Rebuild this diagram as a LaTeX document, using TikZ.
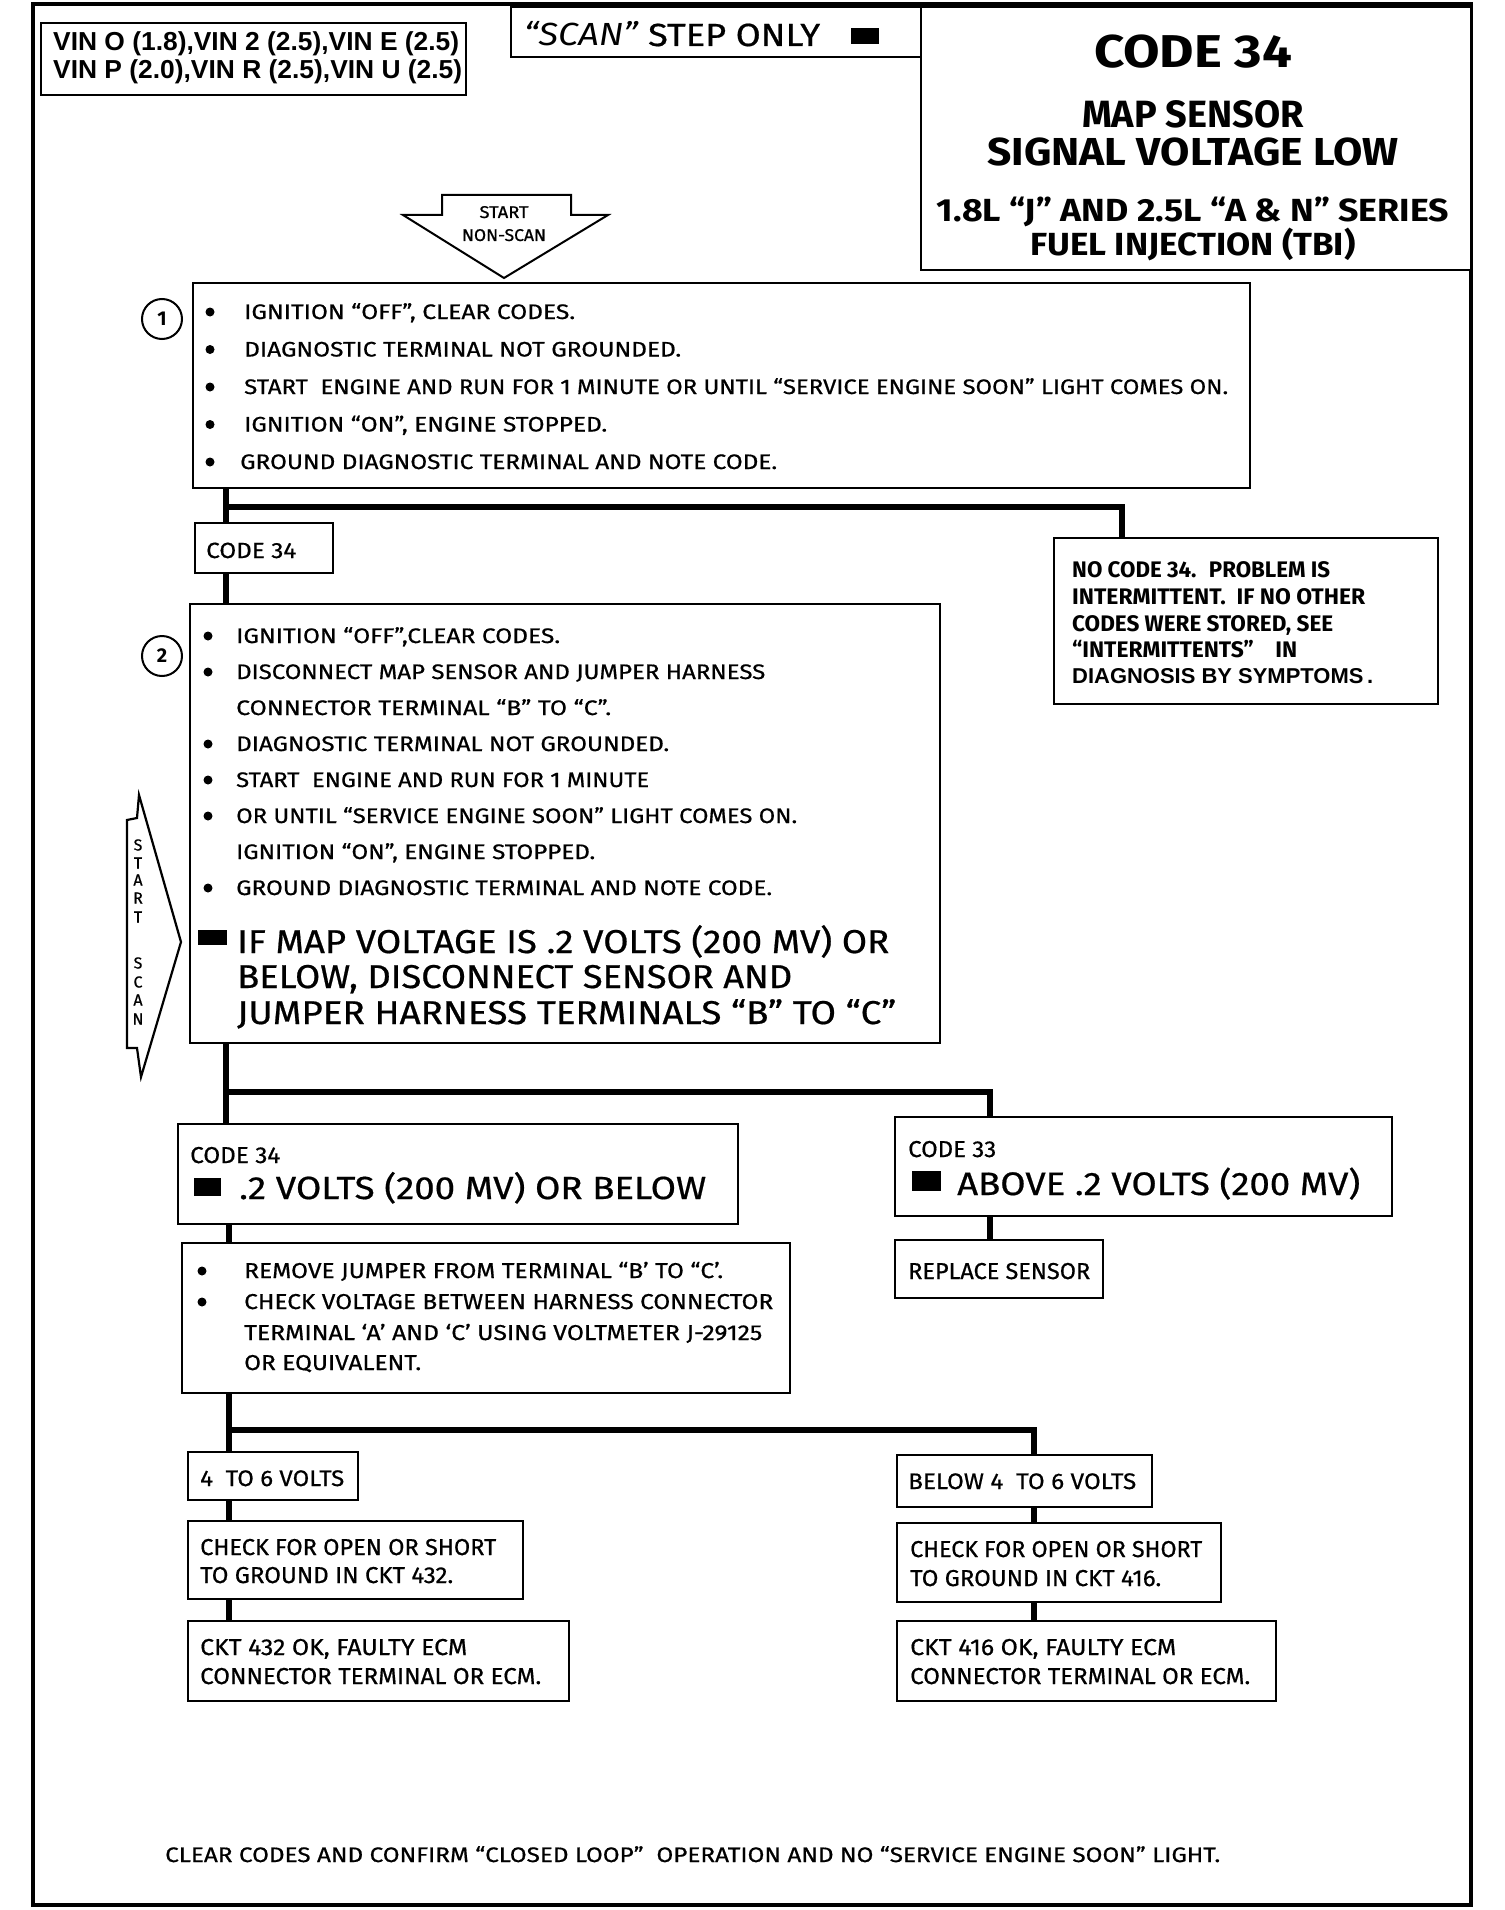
\documentclass[tikz,border=0pt]{standalone}
\usepackage{fontspec}
\usepackage{graphicx}
\setmainfont{Fira Sans}[UprightFeatures={FakeBold=0.6}]
\newfontfamily\arl{Liberation Sans}
\pgfdeclarelayer{bg}
\pgfsetlayers{bg,main}
\newcommand\tw[2]{\resizebox{#1pt}{\height}{#2}}
\newcommand\fs[1]{\fontsize{#1}{#1}\selectfont}
\begin{document}
\begin{tikzpicture}[x=1pt,y=-1pt,
  box/.style={draw, line width=2.5pt, fill=white, inner sep=0pt},
  trunk/.style={line width=6pt, line cap=butt, line join=miter},
  tl/.style={anchor=base west, inner sep=0pt},
  tc/.style={anchor=base, inner sep=0pt},
  num/.style={draw, circle, line width=2pt, minimum size=40pt, inner sep=0pt, font=\bfseries\fs{20}},
  small/.style={tl, font=\fs{21}},
  mid/.style={tl, font=\fs{23}},
  big/.style={tl, font=\fs{33}},
]
\useasboundingbox (0,0) rectangle (1504,1910);
% outer frame
\draw[line width=4.5pt] (33,4) rectangle (1471,1905);

% ---------- header ----------
\node[box, minimum width=425pt, minimum height=72pt] (vin) at (253.5,59) {};
\node[tl, font=\arl\bfseries\fs{26}] (vin1) at (53,51) {\tw{406}{VIN O (1.8),VIN 2 (2.5),VIN E (2.5)}};
\node[tl, font=\arl\bfseries\fs{26}] (vin2) at (53,79) {\tw{409}{VIN P (2.0),VIN R (2.5),VIN U (2.5)}};

\node[box, minimum width=410pt, minimum height=50pt] (scan) at (716,32) {};
\node[tl, font=\fs{32}] (scant) at (524,46) {\tw{296}{\textit{“SCAN”} STEP ONLY}};
\fill (851,28) rectangle (879,44);

\node[box, minimum width=550pt, minimum height=263pt] (title) at (1196,138.5) {};
\node[tc, font=\bfseries\fs{46}] (tt1) at (1193,68) {\tw{198}{CODE 34}};
\node[tc, font=\bfseries\fs{38}] (tt2) at (1193,128) {\tw{222}{MAP SENSOR}};
\node[tc, font=\bfseries\fs{39}] (tt3) at (1193,166) {\tw{411}{SIGNAL VOLTAGE LOW}};
\node[tc, font=\bfseries\fs{32}] (tt4) at (1193,222) {\tw{512}{1.8L “J” AND 2.5L “A \& N” SERIES}};
\node[tc, font=\bfseries\fs{32}] (tt5) at (1193,256) {\tw{325}{FUEL INJECTION (TBI)}};

% start non-scan arrow
\draw[line width=2pt, line join=miter, fill=white] (442,195) -- (571,195) -- (571,215) -- (608,215) -- (504,278) -- (403,215) -- (442,215) -- cycle;
\node[tc, font=\fs{17}] (st1) at (504,218) {\tw{49}{START}};
\node[tc, font=\fs{17}] (st2) at (504,241) {\tw{84}{NON-SCAN}};

% ---------- step 1 ----------
\node[box, minimum width=1057pt, minimum height=205pt] (b1) at (721.5,385.5) {};
\node[num] (n1) at (162,319) {1};
\foreach \y in {319,356.5,394,431.5,469} \fill (210,{\y-7}) circle (4.5);
\node[small] (b1t1) at (244,319) {\tw{331}{IGNITION “OFF”, CLEAR CODES.}};
\node[small] (b1t2) at (244,356.5) {\tw{437}{DIAGNOSTIC TERMINAL NOT GROUNDED.}};
\node[small] (b1t3) at (244,394) {\tw{984}{START~ ENGINE AND RUN FOR 1 MINUTE OR UNTIL “SERVICE ENGINE SOON” LIGHT COMES ON.}};
\node[small] (b1t4) at (244,431.5) {\tw{363}{IGNITION “ON”, ENGINE STOPPED.}};
\node[small] (b1t5) at (240,469) {\tw{537}{GROUND DIAGNOSTIC TERMINAL AND NOTE CODE.}};

\node[box, minimum width=138pt, minimum height=50pt] (c34a) at (264,548) {};
\node[tl, font=\fs{22}] (c34at) at (206,558) {\tw{90}{CODE 34}};

\node[box, minimum width=384pt, minimum height=166pt] (nc) at (1246,621) {};
\node[tl, font=\bfseries\fs{22.5}] (nct1) at (1072,577) {\tw{258}{NO CODE 34.~ PROBLEM IS}};
\node[tl, font=\bfseries\fs{22.5}] (nct2) at (1072,604) {\tw{293}{INTERMITTENT.~ IF NO OTHER}};
\node[tl, font=\bfseries\fs{22.5}] (nct3) at (1072,631) {\tw{261}{CODES WERE STORED, SEE}};
\node[tl, font=\bfseries\fs{22.5}] (nct4) at (1072,657) {\tw{225}{“INTERMITTENTS”~~~ IN}};
\node[tl, font=\arl\bfseries\fs{21.5}] (nct5) at (1072,683) {\tw{301}{DIAGNOSIS BY SYMPTOMS\,.}};

% ---------- step 2 ----------
\node[box, minimum width=750pt, minimum height=439pt] (b2) at (565,823.5) {};
\node[num] (n2) at (162,656) {2};
\foreach \y in {643,679,751,787,823,895} \fill (208,{\y-7}) circle (4.5);
\node[small] (b2t1) at (236,643) {\tw{324}{IGNITION “OFF”,CLEAR CODES.}};
\node[small] (b2t2) at (236,679) {\tw{529}{DISCONNECT MAP SENSOR AND JUMPER HARNESS}};
\node[small] (b2t3) at (236,715) {\tw{375}{CONNECTOR TERMINAL “B” TO “C”.}};
\node[small] (b2t4) at (236,751) {\tw{433}{DIAGNOSTIC TERMINAL NOT GROUNDED.}};
\node[small] (b2t5) at (236,787) {\tw{413}{START~ ENGINE AND RUN FOR 1 MINUTE}};
\node[small] (b2t6) at (236,823) {\tw{561}{OR UNTIL “SERVICE ENGINE SOON” LIGHT COMES ON.}};
\node[small] (b2t7) at (236,859) {\tw{359}{IGNITION “ON”, ENGINE STOPPED.}};
\node[small] (b2t8) at (236,895) {\tw{536}{GROUND DIAGNOSTIC TERMINAL AND NOTE CODE.}};
\fill (198,930) rectangle (227,945);
\node[big] (b2b1) at (237,953) {\tw{652}{IF MAP VOLTAGE IS .2 VOLTS (200 MV) OR}};
\node[big] (b2b2) at (237,988) {\tw{555}{BELOW, DISCONNECT SENSOR AND}};
\node[big] (b2b3) at (237,1024) {\tw{659}{JUMPER HARNESS TERMINALS “B” TO “C”}};

% start scan arrow
\draw[line width=2.2pt, line join=miter, fill=white] (139,795) -- (181,942) -- (141,1077) -- (137,1048) -- (127,1048) -- (127,820) -- (137,818) -- cycle;
\foreach \ch/\y [count=\i] in {S/845,T/863,A/880,R/898,T/917,S/963,C/982,A/1000,N/1019}
  \node[inner sep=0pt, font=\fs{16}] (ss\i) at (138,\y) {\ch};

% ---------- results of step 2 ----------
\node[box, minimum width=560pt, minimum height=100pt] (c34b) at (458,1174) {};
\node[mid] (c34bt) at (190,1163) {\tw{90}{CODE 34}};
\fill (194,1178) rectangle (221,1196);
\node[tl, font=\fs{32}] (c34bb) at (239,1199) {\tw{467}{.2 VOLTS (200 MV) OR BELOW}};

\node[box, minimum width=497pt, minimum height=99pt] (c33) at (1143.5,1166.5) {};
\node[mid] (c33t) at (908,1157) {\tw{88}{CODE 33}};
\fill (912,1171) rectangle (941,1191);
\node[tl, font=\fs{32.5}] (c33b) at (957,1195) {\tw{403}{ABOVE .2 VOLTS (200 MV)}};

\node[box, minimum width=208pt, minimum height=58pt] (rep) at (999,1269) {};
\node[mid] (rept) at (908,1279) {\tw{182}{REPLACE SENSOR}};

\node[box, minimum width=608pt, minimum height=150pt] (rem) at (486,1318) {};
\foreach \y in {1278,1309} \fill (202,{\y-7}) circle (4.5);
\node[tl, font=\fs{21.5}] (remt1) at (244,1278) {\tw{479}{REMOVE JUMPER FROM TERMINAL “B’ TO “C’.}};
\node[tl, font=\fs{21.5}] (remt2) at (244,1309) {\tw{529}{CHECK VOLTAGE BETWEEN HARNESS CONNECTOR}};
\node[tl, font=\fs{21.5}] (remt3) at (244,1340) {\tw{518}{TERMINAL ‘A’ AND ‘C’ USING VOLTMETER J-29125}};
\node[tl, font=\fs{21.5}] (remt4) at (244,1370) {\tw{177}{OR EQUIVALENT.}};

% ---------- voltage results ----------
\node[box, minimum width=170pt, minimum height=48pt] (v46) at (273,1476) {};
\node[tl, font=\fs{22.5}] (v46t) at (200,1486) {\tw{144}{4~ TO 6 VOLTS}};
\node[box, minimum width=255pt, minimum height=52pt] (bel) at (1024.5,1481) {};
\node[tl, font=\fs{22.5}] (belt) at (908,1489) {\tw{228}{BELOW 4~ TO 6 VOLTS}};

\node[box, minimum width=335pt, minimum height=78pt] (k432) at (355.5,1560) {};
\node[mid] (k432a) at (200,1555) {\tw{296}{CHECK FOR OPEN OR SHORT}};
\node[mid] (k432b) at (200,1583) {\tw{253}{TO GROUND IN CKT 432.}};
\node[box, minimum width=324pt, minimum height=79pt] (k416) at (1059,1562.5) {};
\node[mid] (k416a) at (910,1557) {\tw{292}{CHECK FOR OPEN OR SHORT}};
\node[mid] (k416b) at (910,1586) {\tw{251}{TO GROUND IN CKT 416.}};

\node[box, minimum width=381pt, minimum height=80pt] (o432) at (378.5,1661) {};
\node[mid] (o432a) at (200,1655) {\tw{267}{CKT 432 OK, FAULTY ECM}};
\node[mid] (o432b) at (200,1684) {\tw{341}{CONNECTOR TERMINAL OR ECM.}};
\node[box, minimum width=379pt, minimum height=80pt] (o416) at (1086.5,1661) {};
\node[mid] (o416a) at (910,1655) {\tw{266}{CKT 416 OK, FAULTY ECM}};
\node[mid] (o416b) at (910,1684) {\tw{340}{CONNECTOR TERMINAL OR ECM.}};

\node[tl, font=\fs{21}] (foot) at (165,1862) {\tw{1055}{CLEAR CODES AND CONFIRM “CLOSED LOOP”~ OPERATION AND NO “SERVICE ENGINE SOON” LIGHT.}};

% ---------- connectors ----------
\coordinate (tx) at (226,0);
\coordinate (tx2) at (229,0);
\coordinate (j1) at (226,507);
\coordinate (dnc) at (1122,0);
\coordinate (j2) at (226,1092);
\coordinate (d33) at (990,0);
\coordinate (j3) at (229,1430);
\coordinate (d46) at (1034,0);
\begin{pgfonlayer}{bg}
\draw[trunk] (b1.south -| tx) -- (b2.north -| tx);
\draw[trunk] (j1) -| (dnc |- nc.north);
\draw[trunk] (b2.south -| tx) -- (c34b.north -| tx);
\draw[trunk] (j2) -| (d33 |- c33.north);
\draw[trunk] (c33.south -| d33) -- (rep.north -| d33);
\draw[trunk] (c34b.south -| tx2) -- (rem.north -| tx2);
\draw[trunk] (rem.south -| tx2) -- (v46.north -| tx2);
\draw[trunk] (j3) -| (d46 |- bel.north);
\draw[trunk] (v46.south -| tx2) -- (k432.north -| tx2);
\draw[trunk] (k432.south -| tx2) -- (o432.north -| tx2);
\draw[trunk] (bel.south -| d46) -- (k416.north -| d46);
\draw[trunk] (k416.south -| d46) -- (o416.north -| d46);
\end{pgfonlayer}
\end{tikzpicture}
\end{document}
